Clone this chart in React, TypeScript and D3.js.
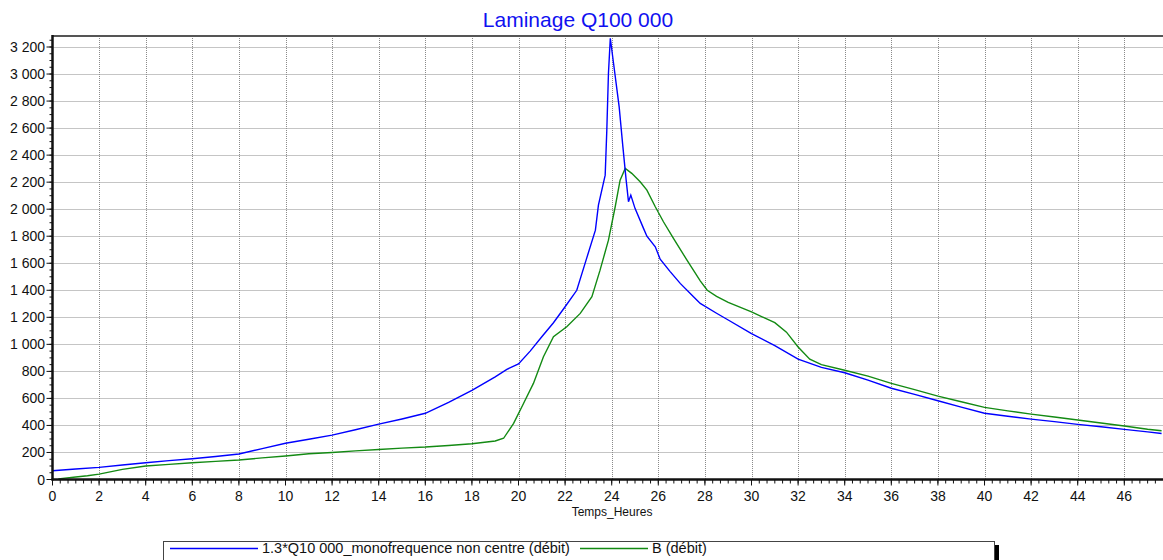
import React from "react";
import * as d3 from "d3";

const title = "Laminage Q100 000";
const xLabel = "Temps_Heures";
const blueName = "1.3*Q10 000_monofrequence non centre (débit)";
const greenName = "B (débit)";

const xTicks = [0, 2, 4, 6, 8, 10, 12, 14, 16, 18, 20, 22, 24, 26, 28, 30, 32, 34, 36, 38, 40, 42, 44, 46];
const yTicks = [0, 200, 400, 600, 800, 1000, 1200, 1400, 1600, 1800, 2000, 2200, 2400, 2600, 2800, 3000, 3200];

const blueT = [0, 1, 2, 3, 4, 5, 6, 7, 8, 9, 10, 11, 12, 13, 14, 15, 16, 17, 18, 19, 19.5, 20, 20.5, 21, 21.5, 22, 22.5, 22.9, 23.3, 23.43, 23.72, 23.79, 23.86, 23.94, 24.08, 24.32, 24.48, 24.62, 24.72, 24.82, 25.0, 25.36, 25.51, 25.87, 26.08, 26.5, 26.94, 27.51, 27.8, 28.5, 29, 30, 31, 32, 33, 34, 35, 36, 37, 38, 39, 40, 41, 42, 43, 44, 45, 46, 47, 47.6];
const blueV = [65, 78, 90, 107, 124, 140, 154, 170, 189, 228, 268, 298, 328, 368, 410, 448, 490, 570, 660, 760, 815, 855, 950, 1056, 1160, 1278, 1400, 1623, 1845, 2030, 2252, 2585, 3004, 3265, 3078, 2757, 2461, 2215, 2055, 2104, 2006, 1860, 1800, 1722, 1630, 1540, 1451, 1352, 1303, 1230, 1180, 1080, 990, 890, 830, 790, 735, 675, 630, 583, 535, 490, 468, 447, 428, 408, 390, 371, 352, 340];

const greenT = [0.25, 1, 1.5, 2, 3, 4, 5, 6, 7, 8, 9, 10, 11, 12, 13, 14, 15, 16, 17, 18, 19, 19.36, 19.79, 20.22, 20.64, 21.07, 21.5, 22.07, 22.65, 23.15, 23.5, 23.86, 24.15, 24.36, 24.58, 24.86, 25.22, 25.51, 25.87, 26.22, 26.65, 27.23, 27.8, 28.1, 28.5, 29, 30, 31, 31.5, 32, 32.5, 33, 34, 35, 36, 37, 38, 39, 40, 41, 42, 43, 44, 45, 46, 47, 47.6];
const greenV = [5, 18, 28, 40, 75, 100, 112, 124, 134, 144, 160, 174, 190, 200, 212, 222, 232, 240, 252, 265, 285, 305, 416, 564, 711, 908, 1056, 1130, 1229, 1352, 1549, 1771, 2018, 2215, 2302, 2265, 2203, 2141, 2018, 1907, 1784, 1623, 1470, 1400, 1355, 1310, 1240, 1160, 1090, 980, 890, 850, 808, 765, 711, 665, 617, 575, 534, 508, 484, 462, 440, 418, 396, 372, 361];

const W = 1163;
const H = 560;
const left = 52.5;
const right = 1161.6;
const top = 36;
const bottom = 479.5;
const xMax = 47.6;

const fmt = (v: number) => d3.format(",")(v).replace(/,/g, " ");

export default function App() {
  const x = d3.scaleLinear().domain([0, xMax]).range([left, right]);
  const y = d3.scaleLinear().domain([0, 3200]).range([bottom, 47]);
  const line = d3
    .line<[number, number]>()
    .x((d) => x(d[0]))
    .y((d) => y(d[1]));
  const blue = blueT.map((t, i) => [t, blueV[i]] as [number, number]);
  const green = greenT.map((t, i) => [t, greenV[i]] as [number, number]);

  const minorX: number[] = [];
  for (let i = 0; i <= Math.floor(xMax * 3); i++) minorX.push(i / 3);
  const minorY: number[] = [];
  for (let v = 0; v <= 3250; v += 50) minorY.push(v);

  const font = "'Liberation Sans', Arial, sans-serif";

  return (
    <svg
      width={W}
      height={H}
      style={{ position: "absolute", left: 0, top: 0, background: "#fff" }}
      fontFamily={font}
    >
      <defs>
        <clipPath id="plot">
          <rect x={left} y={top} width={W - left} height={bottom - top} />
        </clipPath>
      </defs>
      <rect x={0} y={0} width={W} height={H} fill="#fff" />
      <text x={578} y={27} textAnchor="middle" fill="#1010f0" fontSize={21}>
        {title}
      </text>

      {/* grid */}
      <g stroke="#8a8a8a" strokeWidth={1} strokeDasharray="1,1">
        {yTicks.filter((v) => v > 0).map((v) => (
          <line key={"gy" + v} x1={left} x2={W} y1={Math.round(y(v)) + 0.5} y2={Math.round(y(v)) + 0.5} />
        ))}
        {xTicks.filter((t) => t > 0).map((t) => (
          <line key={"gx" + t} x1={Math.round(x(t)) + 0.5} x2={Math.round(x(t)) + 0.5} y1={top} y2={bottom} />
        ))}
      </g>

      {/* top border */}
      <line x1={left} x2={W} y1={top} y2={top} stroke="#555" strokeWidth={2} />

      {/* series */}
      <g clipPath="url(#plot)" fill="none" strokeWidth={1.4}>
        <path d={line(green) || ""} stroke="#138a13" />
        <path d={line(blue) || ""} stroke="#0000ff" />
      </g>

      {/* axes */}
      <g stroke="#111">
        <line x1={left} x2={left} y1={top - 1} y2={bottom + 1} strokeWidth={2.5} />
        <line x1={left - 1} x2={W} y1={bottom} y2={bottom} strokeWidth={2.5} />
        {minorX.map((t) => (
          <line key={"mx" + t} x1={x(t)} x2={x(t)} y1={bottom} y2={bottom + 4} strokeWidth={1} />
        ))}
        {xTicks.map((t) => (
          <line key={"tx" + t} x1={x(t)} x2={x(t)} y1={bottom} y2={bottom + 6} strokeWidth={1} />
        ))}
        {minorY.map((v) => (
          <line key={"my" + v} x1={left - 3} x2={left} y1={y(v)} y2={y(v)} strokeWidth={1} />
        ))}
        {yTicks.map((v) => (
          <line key={"ty" + v} x1={left - 6} x2={left} y1={y(v)} y2={y(v)} strokeWidth={1} />
        ))}
      </g>
      <g fontSize={14} fill="#111">
        {yTicks.map((v) => (
          <text key={"ly" + v} x={45} y={y(v) + 5} textAnchor="end">
            {fmt(v)}
          </text>
        ))}
        {xTicks.map((t) => (
          <text key={"lx" + t} x={x(t)} y={500.5} textAnchor="middle">
            {t}
          </text>
        ))}
      </g>
      <text x={(left + right) / 2 + 5} y={516} textAnchor="middle" fontSize={12} fill="#111">
        {xLabel}
      </text>

      {/* legend */}
      <g>
        <rect x={994} y={545} width={5} height={20} fill="#000" />
        <rect x={163.5} y={541.5} width={831} height={30} fill="#fff" stroke="#444" strokeWidth={1} />
        <line x1={170} x2={258} y1={548.5} y2={548.5} stroke="#0000ff" strokeWidth={1.4} />
        <text x={262} y={553} fontSize={14.5} fill="#111">{blueName}</text>
        <line x1={580} x2={648} y1={548.5} y2={548.5} stroke="#138a13" strokeWidth={1.4} />
        <text x={652} y={553} fontSize={14.5} fill="#111">{greenName}</text>
      </g>
    </svg>
  );
}
